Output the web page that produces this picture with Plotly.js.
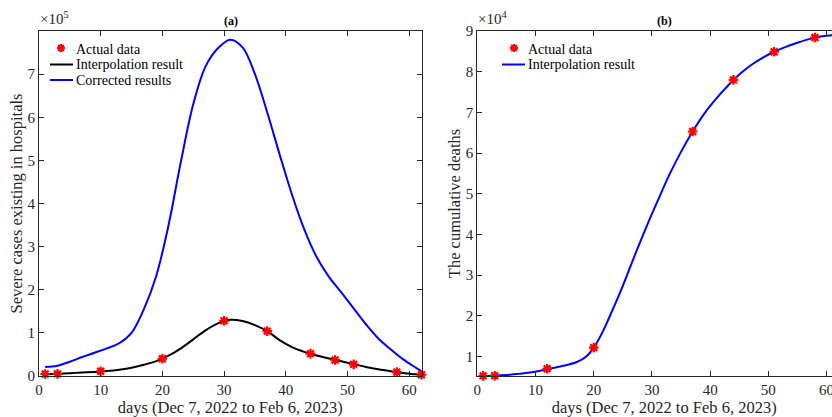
<!DOCTYPE html>
<html>
<head>
<meta charset="utf-8">
<script src="https://cdn.plot.ly/plotly-3.0.1.min.js"></script>
<style>
html,body{margin:0;padding:0;overflow:hidden;background:#fff;}
#chart{width:860px;height:417px;}
</style>
</head>
<body>
<div id="chart"></div>
<script>
// ---- Panel (a): severe cases existing in hospitals ----
const aActualX = [1, 3, 10, 20, 30, 37, 44, 48, 51, 58, 62];
const aActualY = [4600, 5000, 11000, 40000, 128000, 104000, 52000, 37000, 27000, 9000, 3000];

const aInterpX = [1, 3, 5, 7, 9, 11, 13, 15, 17, 19, 21, 23, 25, 27, 29, 31, 33, 35, 37, 39, 41, 43, 45, 47, 49, 51, 53, 55, 57, 59, 61, 62];
const aInterpY = [4000, 5000, 6500, 8000, 9500, 11500, 14500, 19000, 26000, 34500, 47000, 64000, 85000, 106000, 122000, 130500, 127500, 118000, 104000, 83000, 67000, 56000, 47500, 40500, 34000, 27500, 21000, 15500, 11000, 7000, 3800, 3000];

const aCorrX = [1, 3, 5, 7, 9, 11, 13, 15, 17, 19, 21, 23, 25, 27, 29, 31, 33, 35, 37, 39, 41, 43, 45, 47, 49, 51, 53, 55, 57, 59, 61, 62];
const aCorrY = [21000, 24000, 33000, 44000, 54000, 64000, 76000, 100000, 155000, 232000, 350000, 497000, 630000, 718000, 760000, 780000, 762000, 700000, 611000, 514000, 421000, 340000, 276000, 230000, 194000, 157000, 120000, 87000, 62000, 39000, 20000, 11000];

// ---- Panel (b): cumulative deaths ----
const bActualX = [1, 3, 12, 20, 37, 44, 51, 58];
const bActualY = [5250, 5300, 7000, 12200, 65300, 78000, 84900, 88400];

const bInterpX = [1, 3, 5, 7, 9, 11, 13, 15, 17, 18, 19, 20, 21, 22, 23, 25, 27, 29, 31, 33, 35, 37, 39, 41, 43, 45, 47, 49, 51, 53, 55, 57, 59, 61, 64];
const bInterpY = [5250, 5300, 5450, 5750, 6100, 6600, 7200, 7800, 8600, 9300, 10400, 12200, 14600, 17500, 20700, 27400, 34700, 41700, 48300, 54700, 60300, 65300, 69700, 73300, 76500, 79300, 81600, 83400, 84900, 86100, 87100, 88000, 88650, 88950, 89300];

// tick labels and legend labels
const xTicks = [0, 10, 20, 30, 40, 50, 60];
const aYTickVals = [0, 100000, 200000, 300000, 400000, 500000, 600000, 700000];
const aYTickText = ['0', '1', '2', '3', '4', '5', '6', '7'];
const bYTickVals = [10000, 20000, 30000, 40000, 50000, 60000, 70000, 80000, 90000];
const bYTickText = ['1', '2', '3', '4', '5', '6', '7', '8', '9'];
const aLegend = ['Actual data', 'Interpolation result', 'Corrected results'];
const bLegend = ['Actual data', 'Interpolation result'];

const W = 860, H = 417;
const px = v => v / W;
const py = v => 1 - v / H;
const FONT = 'Liberation Serif';
const AX = '#262626';
const BLUE = '#0000ff';

const marker = {symbol: 'asterisk-open', size: 8, color: 'red', line: {color: 'red', width: 2.2}};

const traces = [
  {x: aInterpX, y: aInterpY, xaxis: 'x', yaxis: 'y', mode: 'lines', line: {color: 'black', width: 2, shape: 'spline', smoothing: 1}, name: aLegend[1]},
  {x: aCorrX, y: aCorrY, xaxis: 'x', yaxis: 'y', mode: 'lines', line: {color: BLUE, width: 2, shape: 'spline', smoothing: 1}, name: aLegend[2]},
  {x: aActualX, y: aActualY, xaxis: 'x', yaxis: 'y', mode: 'markers', marker: marker, cliponaxis: false, name: aLegend[0]},
  {x: bInterpX, y: bInterpY, xaxis: 'x2', yaxis: 'y2', mode: 'lines', line: {color: BLUE, width: 2, shape: 'spline', smoothing: 1}, name: bLegend[1]},
  {x: bActualX, y: bActualY, xaxis: 'x2', yaxis: 'y2', mode: 'markers', marker: marker, cliponaxis: false, name: bLegend[0]}
];

const axBase = {
  showgrid: false, zeroline: false, showline: true, linecolor: AX, linewidth: 1,
  mirror: 'ticks', ticks: 'inside', ticklen: 5, tickcolor: AX, tickwidth: 1,
  tickfont: {family: FONT, size: 15, color: AX}
};

// legend (drawn as annotations + small glyph shapes, MATLAB style spacing)
const legFont = {family: FONT, size: 14, color: '#000'};
function legendText(label, x, y) {
  return {text: label, xref: 'paper', yref: 'paper', x: px(x), y: py(y), xanchor: 'left', yanchor: 'middle', showarrow: false, font: legFont};
}
function legendLine(x0, x1, y, color) {
  return {type: 'line', xref: 'paper', yref: 'paper', x0: px(x0), x1: px(x1), y0: py(y), y1: py(y), line: {color: color, width: 2}};
}
function legendStar(x, y) {
  return {type: 'path', xref: 'paper', yref: 'paper', xsizemode: 'pixel', ysizemode: 'pixel', xanchor: px(x), yanchor: py(y),
    path: 'M-4,0L4,0M0,-4L0,4M-2.9,-2.9L2.9,2.9M-2.9,2.9L2.9,-2.9', line: {color: 'red', width: 2.2}};
}

const annotations = [
  {text: '<b>(a)</b>', xref: 'paper', yref: 'paper', x: px(230.5), y: py(21), xanchor: 'center', yanchor: 'middle', showarrow: false, font: {family: FONT, size: 12, color: '#000'}},
  {text: '<b>(b)</b>', xref: 'paper', yref: 'paper', x: px(664), y: py(21), xanchor: 'center', yanchor: 'middle', showarrow: false, font: {family: FONT, size: 12, color: '#000'}},
  {text: '×10<sup>5</sup>', xref: 'paper', yref: 'paper', x: px(38), y: py(29), xanchor: 'left', yanchor: 'bottom', showarrow: false, font: {family: FONT, size: 15, color: AX}},
  {text: '×10<sup>4</sup>', xref: 'paper', yref: 'paper', x: px(476), y: py(29), xanchor: 'left', yanchor: 'bottom', showarrow: false, font: {family: FONT, size: 15, color: AX}},
  legendText(aLegend[0], 74, 49), legendText(aLegend[1], 74, 64.5), legendText(aLegend[2], 74, 80),
  legendText(bLegend[0], 526, 49), legendText(bLegend[1], 526, 64.5)
];
const shapes = [
  legendStar(61, 48), legendLine(50, 73, 64.5, 'black'), legendLine(50, 73, 80, BLUE),
  legendStar(514, 48), legendLine(502, 525, 64.5, BLUE)
];

const layout = {
  width: W, height: H,
  font: {family: FONT, color: AX},
  margin: {l: 0, r: 0, t: 0, b: 0},
  paper_bgcolor: '#fff', plot_bgcolor: '#fff',
  showlegend: false,
  xaxis: Object.assign({}, axBase, {domain: [px(39), px(421.5)], range: [0, 62], tickvals: xTicks, anchor: 'y',
    title: {text: 'days (Dec 7, 2022 to Feb 6, 2023)', font: {family: FONT, size: 16.5, color: AX}, standoff: 4}}),
  yaxis: Object.assign({}, axBase, {domain: [1 - 376 / H, 1 - 31 / H], range: [0, 800000], tickvals: aYTickVals, ticktext: aYTickText, anchor: 'x',
    title: {text: 'Severe cases existing in hospitals', font: {family: FONT, size: 16.5, color: AX}, standoff: 0}}),
  xaxis2: Object.assign({}, axBase, {domain: [px(477.3), px(851)], range: [0, 64.2], tickvals: xTicks, anchor: 'y2',
    title: {text: 'days (Dec 7, 2022 to Feb 6, 2023)', font: {family: FONT, size: 16.5, color: AX}, standoff: 4}}),
  yaxis2: Object.assign({}, axBase, {domain: [1 - 376 / H, 1 - 31 / H], range: [5230, 90000], tickvals: bYTickVals, ticktext: bYTickText, anchor: 'x2',
    title: {text: 'The cumulative deaths', font: {family: FONT, size: 16.5, color: AX}, standoff: 1}}),
  annotations: annotations,
  shapes: shapes
};

Plotly.newPlot('chart', traces, layout, {displayModeBar: false, staticPlot: true});
</script>
</body>
</html>
